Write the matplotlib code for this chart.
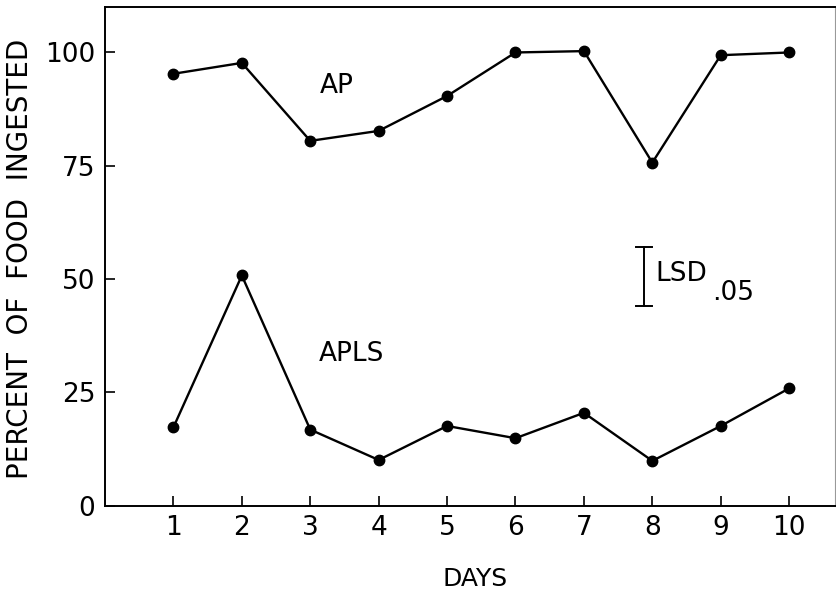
import matplotlib
matplotlib.use("Agg")
import matplotlib.pyplot as plt

days = [1, 2, 3, 4, 5, 6, 7, 8, 9, 10]
ap = [95.3, 97.7, 80.5, 82.7, 90.4, 100.0, 100.3, 75.7, 99.4, 100.0]
apls = [17.3, 50.8, 16.8, 10.1, 17.6, 14.9, 20.5, 9.9, 17.6, 25.9]
y_ticks = [0, 25, 50, 75, 100]
lsd_x = 7.88
lsd_low, lsd_high = 44.0, 57.0

plt.rcParams['font.family'] = ['DejaVu Sans']
fig = plt.figure(figsize=(8.36, 5.95), dpi=100)
ax = fig.add_axes([0.1256, 0.150, 0.8732, 0.838])

ax.plot(days, ap, color='black', lw=1.7, marker='o', ms=7.5)
ax.plot(days, apls, color='black', lw=1.7, marker='o', ms=7.5)

# LSD bar
cap = 0.12
ax.plot([lsd_x, lsd_x], [lsd_low, lsd_high], color='black', lw=1.4)
ax.plot([lsd_x - cap, lsd_x + cap], [lsd_low, lsd_low], color='black', lw=1.4)
ax.plot([lsd_x - cap, lsd_x + cap], [lsd_high, lsd_high], color='black', lw=1.4)
ax.text(lsd_x + 0.17, 51.1, 'LSD', fontsize=19, va='center', ha='left')
ax.text(lsd_x + 0.99, 46.9, '.05', fontsize=19, va='center', ha='left')

ax.text(3.39, 92.7, 'AP', fontsize=19, va='center', ha='center')
ax.text(3.61, 33.4, 'APLS', fontsize=19, va='center', ha='center')

ax.set_xlim(0, 10.67)
ax.set_ylim(0, 110)
ax.set_xticks(days)
ax.set_xticklabels([str(d) for d in days])
ax.set_yticks(y_ticks)
ax.set_yticklabels([str(t) for t in y_ticks])
ax.tick_params(axis='both', direction='in', length=7, width=1.2, labelsize=19)
ax.tick_params(axis='y', pad=7)
ax.tick_params(axis='x', pad=7)

for s in ['left', 'bottom', 'top']:
    ax.spines[s].set_linewidth(1.4)
ax.spines['right'].set_linewidth(0.8)
ax.spines['right'].set_color('#999999')

ax.set_xlabel('DAYS', fontsize=18)
ax.xaxis.set_label_coords((475 - 105) / 730, -(579 - 505.7) / 498.7)
ax.xaxis.label.set_va('center')
ax.set_ylabel('PERCENT  OF  FOOD  INGESTED', fontsize=20)
ax.yaxis.set_label_coords(-(105 - 20) / 730, (505.7 - 259) / 498.7)
ax.yaxis.label.set_va('center')

fig.savefig('out.png', dpi=100)
